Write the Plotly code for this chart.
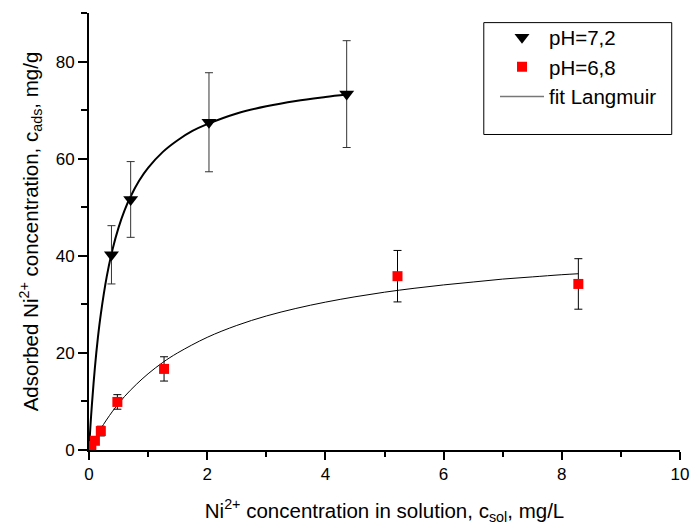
import plotly.graph_objects as go

# --- data ---
ph72_x = [0.38, 0.705, 2.03, 4.36]
ph72_y = [40.2, 51.6, 67.5, 73.3]
ph72_err = [6.0, 7.8, 10.2, 11.0]

ph68_x = [0.04, 0.10, 0.20, 0.48, 1.27, 5.22, 8.28]
ph68_y = [0.8, 1.9, 3.9, 9.9, 16.7, 35.8, 34.2]
ph68_err = [0.5, 0.7, 1.0, 1.5, 2.5, 5.3, 5.2]

fit72_x = [0, 0.025, 0.05, 0.1, 0.15, 0.2, 0.3, 0.4, 0.5, 0.6, 0.7, 0.85, 1.0,
           1.25, 1.5, 1.75, 2.0, 2.5, 3.0, 3.5, 4.0, 4.36]
fit72_y = [0, 5.1, 9.5, 17.0, 23.1, 28.0, 35.7, 41.4, 45.8, 49.3, 52.1, 55.5, 58.1,
           61.4, 63.8, 65.7, 67.1, 69.3, 70.8, 71.9, 72.7, 73.2]

fit68_x = [0, 0.1, 0.2, 0.4, 0.6, 0.8, 1.0, 1.25, 1.5, 2.0, 2.5, 3.0, 3.5, 4.0,
           4.5, 5.0, 5.5, 6.0, 6.5, 7.0, 7.5, 8.0, 8.28]
fit68_y = [0, 2.3, 4.4, 8.0, 11.0, 13.5, 15.7, 18.05, 20.0, 23.2, 25.65, 27.6, 29.15, 30.45,
           31.55, 32.5, 33.3, 34.0, 34.6, 35.2, 35.65, 36.1, 36.3]

x_title = "Ni<sup>2+</sup> concentration in solution, c<sub>sol</sub>, mg/L"
y_title = "Adsorbed Ni<sup>2+</sup> concentration, c<sub>ads</sub>, mg/g"

FONT = "Liberation Sans, Arial, sans-serif"

fig = go.Figure()

fig.add_trace(go.Scatter(x=fit72_x, y=fit72_y, mode="lines", line=dict(color="black", width=2, shape="spline"),
                         showlegend=False, hoverinfo="skip"))
fig.add_trace(go.Scatter(x=fit68_x, y=fit68_y, mode="lines", line=dict(color="black", width=1, shape="spline"),
                         showlegend=False, hoverinfo="skip"))

fig.add_trace(go.Scatter(x=ph72_x, y=ph72_y, mode="markers", name="pH=7,2",
                         marker=dict(symbol="triangle-down", size=13, color="black"),
                         error_y=dict(type="data", array=ph72_err, color="#333333", thickness=1, width=4),
                         legendgroup="a", legendrank=1))
fig.add_trace(go.Scatter(x=ph68_x, y=ph68_y, mode="markers", name="pH=6,8",
                         marker=dict(symbol="square", size=10, color="#ff0000"),
                         error_y=dict(type="data", array=ph68_err, color="black", thickness=1, width=4),
                         legendgroup="b", legendrank=2))
fig.add_trace(go.Scatter(x=[None], y=[None], mode="lines", name="fit Langmuir",
                         line=dict(color="#777777", width=1.5), legendgroup="c", legendrank=3))

# legend box
fig.add_shape(type="rect", xref="paper", yref="paper", x0=0.668, x1=0.986, y0=0.722, y1=0.978,
              line=dict(color="black", width=1), fillcolor="white", layer="below")

tick_common = dict(showgrid=False, zeroline=False, showline=True, linecolor="black", linewidth=2,
                   tickwidth=1.5, tickcolor="black", automargin=False)

fig.update_layout(
    width=692, height=525,
    margin=dict(l=89, r=12, t=12.5, b=75, autoexpand=False),
    paper_bgcolor="white", plot_bgcolor="white",
    font=dict(family=FONT, size=17, color="black"),
    showlegend=True,
    legend=dict(x=0.687, y=0.99, xanchor="left", yanchor="top", bgcolor="rgba(0,0,0,0)",
                borderwidth=0, font=dict(size=20.5), traceorder="grouped", tracegroupgap=0,
                itemwidth=44),
    xaxis=dict(range=[0, 10], dtick=2, tick0=0, ticks="outside", ticklen=8,
               minor=dict(dtick=1, tick0=0, ticks="outside", ticklen=5, tickwidth=1.5, tickcolor="black", showgrid=False),
               title=dict(text=x_title, font=dict(size=20.5), standoff=20),
               tickfont=dict(size=17), **tick_common),
    yaxis=dict(range=[0, 90], dtick=20, tick0=0, ticks="outside", ticklen=9,
               minor=dict(dtick=10, tick0=0, ticks="outside", ticklen=6, tickwidth=1.5, tickcolor="black", showgrid=False),
               title=dict(text=y_title, font=dict(size=20.5), standoff=12),
               tickfont=dict(size=17), **tick_common),
    xaxis2=dict(overlaying="x", side="top", range=[0, 10], dtick=2, tick0=0, showticklabels=False,
                ticks="inside", ticklen=8,
                minor=dict(dtick=1, tick0=0, ticks="inside", ticklen=4, tickwidth=1.5, tickcolor="black", showgrid=False),
                **tick_common),
    yaxis2=dict(overlaying="y", side="right", range=[0, 90], dtick=20, tick0=0, showticklabels=False,
                ticks="inside", ticklen=8,
                minor=dict(dtick=10, tick0=0, ticks="inside", ticklen=5, tickwidth=1.5, tickcolor="black", showgrid=False),
                **tick_common),
)

fig.write_html("out.html")
